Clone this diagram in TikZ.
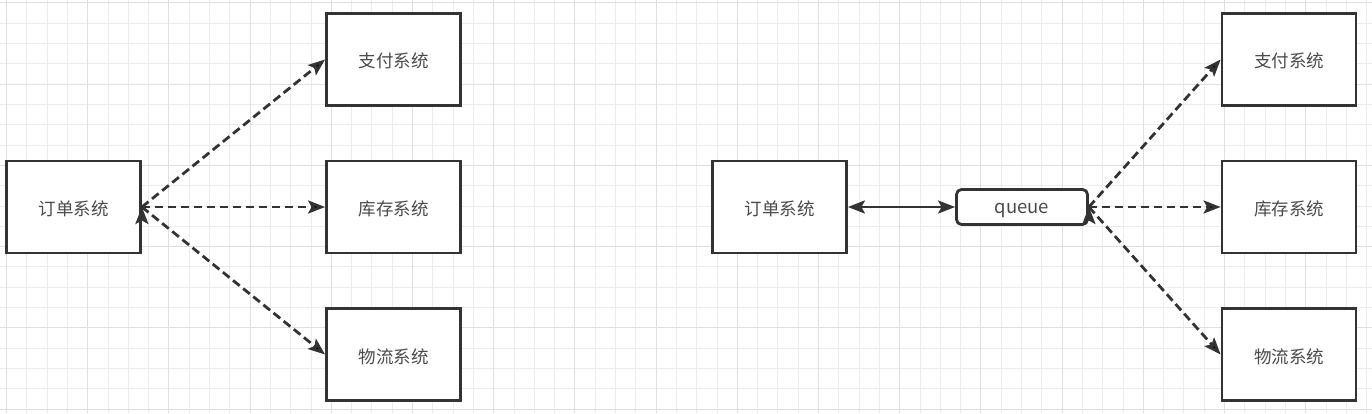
\documentclass[tikz,border=0pt]{standalone}
\usepackage{fontspec}
\setmainfont{Noto Sans CJK SC}
\usetikzlibrary{arrows.meta}
\definecolor{ln}{HTML}{333333}
\definecolor{tx}{HTML}{4A4A4A}
\definecolor{gmin}{HTML}{ECECEC}
\definecolor{gmaj}{HTML}{DFDFDF}
\tikzstyle{sv}=[shape=rectangle,
                draw=ln,
                fill=white,
                text=tx,
                line width=2.8pt,
                minimum height=92pt,
                minimum width=134pt,
                text height=17pt,
                text depth=0pt,
                font=\fontsize{17.5pt}{21pt}\selectfont]
\tikzstyle{qv}=[shape=rectangle,
                draw=ln,
                fill=white,
                text=tx,
                rounded corners=5pt,
                line width=2.8pt,
                minimum height=35pt,
                minimum width=131pt,
                text height=15pt,
                text depth=1.6pt,
                font=\fontsize{18.5pt}{22pt}\selectfont]
\tikzstyle{dl}=[draw=ln,
                line width=2.8pt,
                dash pattern=on 8.5pt off 4.5pt]

\begin{document}
\begin{tikzpicture}[x=1pt,y=1pt,>={Stealth[length=17pt,width=13pt,inset=3.5pt]}]

% background grid
\fill[white] (0,0) rectangle (1372,413);
\useasboundingbox (0,0) rectangle (1372,413);
\foreach \i in {0,...,67}
  \draw[gmin,line width=1pt] ({6.5+20.3*\i},0) -- ({6.5+20.3*\i},413);
\foreach \j in {0,...,20}
  \draw[gmin,line width=1pt] (0,{410-20.3*\j}) -- (1372,{410-20.3*\j});
\foreach \i in {0,...,16}
  \draw[gmaj,line width=1pt] ({6.5+81.2*\i},0) -- ({6.5+81.2*\i},413);
\foreach \j in {0,...,5}
  \draw[gmaj,line width=1pt] (0,{410-81.2*\j}) -- (1372,{410-81.2*\j});

% left: direct calls
\node[sv] (orderL) at (73.5,206)  {订单系统};
\node[sv] (stockL) at (393.5,206) {库存系统};
\node[sv] (payL)   [above of=stockL,node distance=147.5pt] {支付系统};
\node[sv] (logiL)  [below of=stockL,node distance=147.5pt] {物流系统};

% right: calls through the queue
\node[sv] (orderR) at (779.5,206) {订单系统};
\node[qv] (queue)  at (1022,206)  {queue};
\node[sv] (stockR) at (1289,206)  {库存系统};
\node[sv] (payR)   [above of=stockR,node distance=147.5pt] {支付系统};
\node[sv] (logiR)  [below of=stockR,node distance=147.5pt] {物流系统};

% paths (arrows) from order system to the others
\path[->,dl] (orderL.east) edge (payL.west)
                           edge (stockL.west)
                           edge (logiL.west);
% paths (arrows) between order system, queue and the others
\draw[<->,draw=ln,line width=2.8pt] (orderR.east) -- (queue.west);
\path[->,dl] (queue.east) edge (payR.west)
                          edge (stockR.west)
                          edge (logiR.west);
\end{tikzpicture}
\end{document}
